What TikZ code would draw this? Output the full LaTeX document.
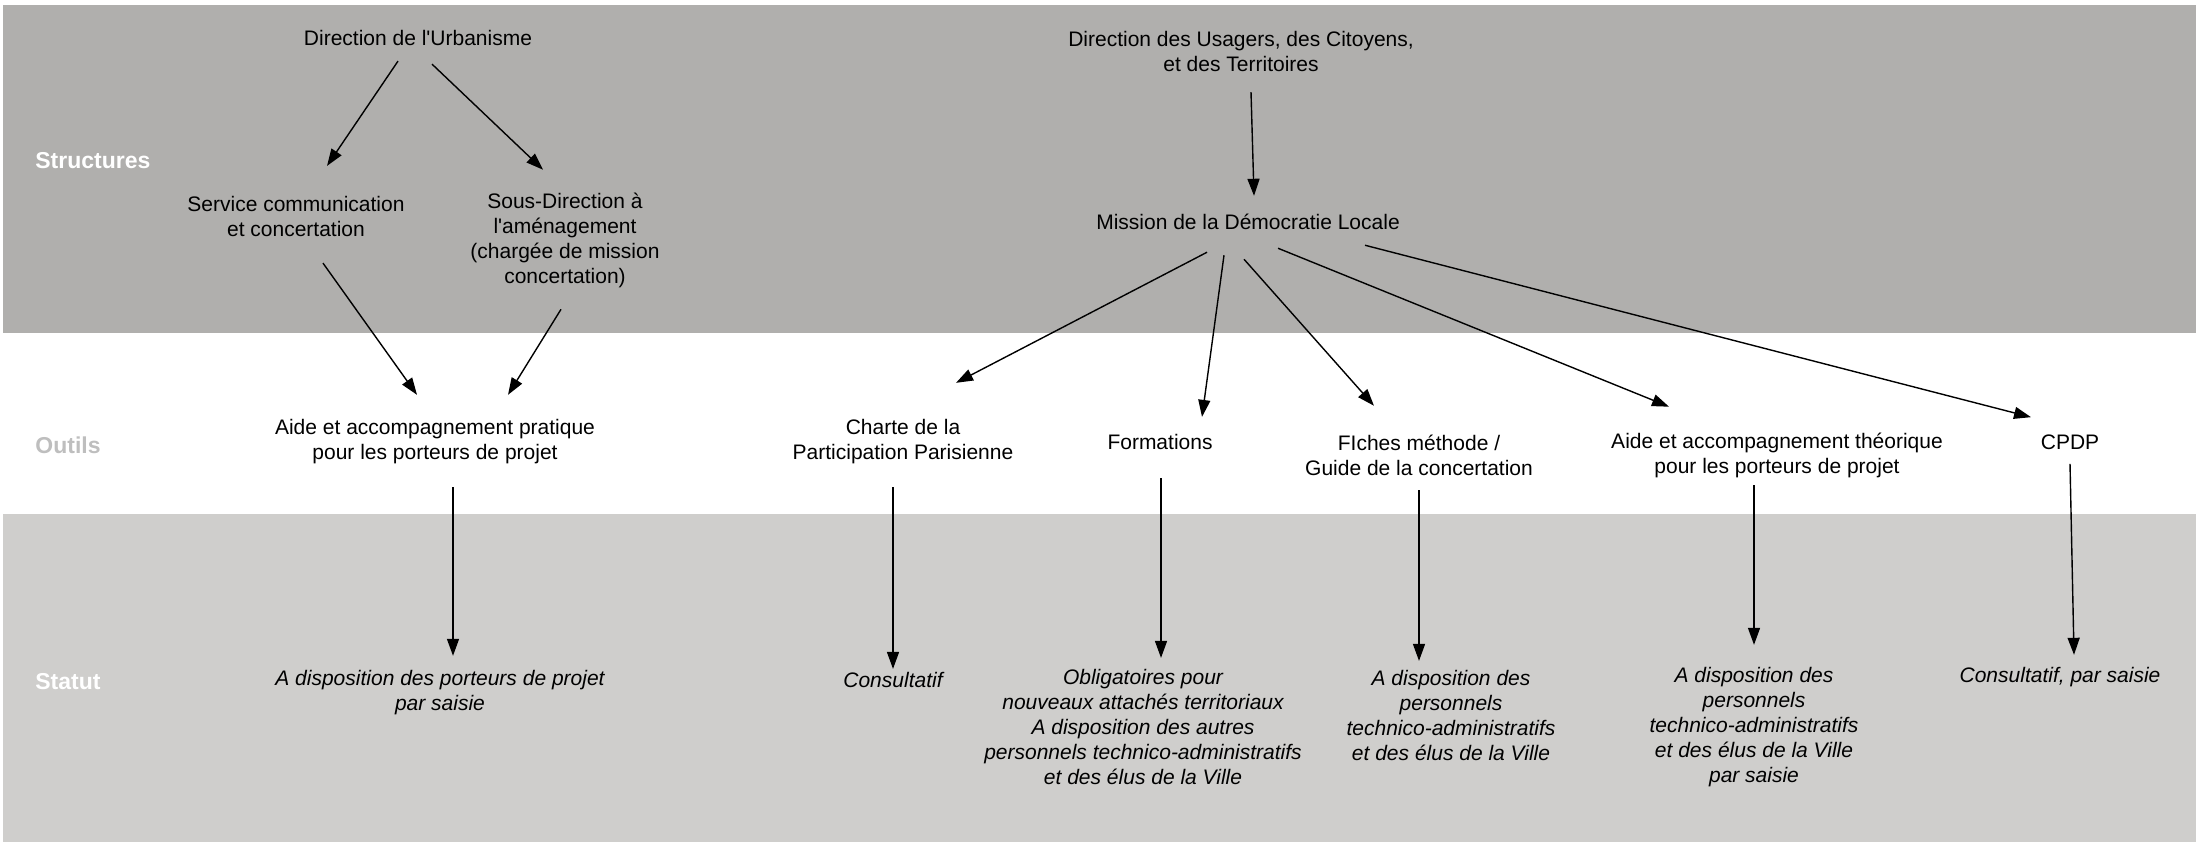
\documentclass[tikz,border=0pt]{standalone}
\usepackage{fontspec}
\setmainfont{Liberation Sans}
\usepackage{xcolor}
\usetikzlibrary{arrows.meta, positioning, calc}

\definecolor{bandtop}{RGB}{176,175,173}
\definecolor{bandlow}{RGB}{207,206,204}
\definecolor{outilsgray}{RGB}{190,190,190}

\tikzset{
  txt/.style={align=center, inner sep=0pt, font=\fontsize{10.5}{12.5}\selectfont},
  stat/.style={txt, font=\fontsize{10.5}{12.5}\selectfont\itshape},
  rowlabel/.style={anchor=west, inner sep=0pt, font=\fontsize{11.5}{13}\selectfont\bfseries},
  arr/.style={-{Triangle[length=8.5pt,width=6pt]}, line width=0.7pt}
}

\begin{document}
\begin{tikzpicture}[x=0.5pt, y=-0.5pt]
    \useasboundingbox (0,0) rectangle (2199,843);

    % bandes
    \fill[bandtop] (3,5) rectangle (2196,333);
    \fill[bandlow] (3,514) rectangle (2196,842);

    \node[rowlabel, white] (lstruct) at (35,161) {Structures};
    \node[rowlabel, outilsgray] (loutils) at (35,445) {Outils};
    \node[rowlabel, white] (lstatut) at (35,682) {Statut};

    % structures
    \node[txt] (du) at (418,38) {Direction de l\textquotesingle Urbanisme};
    \node[txt] (scc) at (296,216) {Service communication\\et concertation};
    \node[txt] (sda) at (565,240) {Sous-Direction à\\l\textquotesingle aménagement\\(chargée de mission\\concertation)};
    \node[txt] (duct) at (1241,51) {Direction des Usagers, des Citoyens,\\et des Territoires};
    \node[txt] (mdl) at (1248,222) {Mission de la Démocratie Locale};

    % outils
    \node[txt] (ap) at (435,442) {Aide et accompagnement pratique\\pour les porteurs de projet};
    \node[txt] (charte) at (903,442) {Charte de la\\Participation Parisienne};
    \node[txt] (form) at (1160,442) {Formations};
    \node[txt] (fiches) at (1419,455) {FIches méthode /\\Guide de la concertation};
    \node[txt] (at) at (1777,455) {Aide et accompagnement théorique\\pour les porteurs de projet};
    \node[txt] (cpdp) at (2070,442) {CPDP};

    % statut
    \node[stat] (sp) at (440,693) {A disposition des porteurs de projet\\par saisie};
    \node[stat] (consult) at (893,680) {Consultatif};
    \node[stat] (oblig) at (1143,727) {Obligatoires pour\\nouveaux attachés territoriaux\\A disposition des autres\\personnels technico-administratifs\\et des élus de la Ville};
    \node[stat] (fichesst) at (1451,715) {A disposition des\\personnels\\technico-administratifs\\et des élus de la Ville};
    \node[stat] (atst) at (1754,727) {A disposition des\\personnels\\technico-administratifs\\et des élus de la Ville\\par saisie};
    \node[stat] (cpdpst) at (2060,677) {Consultatif, par saisie};

    % fleches
    \draw[arr] ([shift={(-20,15)}]du.south) -- ([shift={(31,-29.5)}]scc.north);
    \draw[arr] ([shift={(14,18)}]du.south) -- ([shift={(-22,-22.5)}]sda.north);
    \draw[arr] ([shift={(27,26.5)}]scc.south) -- ([shift={(-18,-24.5)}]ap.north);
    \draw[arr] ([shift={(-4,21.5)}]sda.south) -- ([shift={(73,-24.5)}]ap.north);
    \draw[arr] ([shift={(18,22.5)}]ap.south) -- ([shift={(13,-14.5)}]sp.north);

    \draw[arr] ([shift={(10,20.5)}]duct.south) -- ([shift={(6,-18)}]mdl.north);
    \draw[arr] ([shift={(-41,22)}]mdl.south) -- ([shift={(53,-36.5)}]charte.north);
    \draw[arr] ([shift={(-24,25)}]mdl.south) -- ([shift={(42,-17)}]form.north);
    \draw[arr] ([shift={(-4,29)}]mdl.south) -- ([shift={(-45,-28.5)}]fiches.north);
    \draw[arr] ([shift={(30,18)}]mdl.south) -- ([shift={(-108,-25.5)}]at.north);
    \draw[arr] ([shift={(117,15)}]mdl.south) -- ([shift={(-39,-17)}]cpdp.north);

    \draw[arr] ([shift={(-10,22.5)}]charte.south) -- ([shift={(0,-3)}]consult.north);
    \draw[arr] ([shift={(1,28)}]form.south) -- ([shift={(18,-11)}]oblig.north);
    \draw[arr] ([shift={(0,14.5)}]fiches.south) -- ([shift={(-32,-8.5)}]fichesst.north);
    \draw[arr] ([shift={(-23,7.5)}]at.south) -- ([shift={(0,-22)}]atst.north);
    \draw[arr] ([shift={(0,14)}]cpdp.south) -- ([shift={(14,-12)}]cpdpst.north);

\end{tikzpicture}
\end{document}
